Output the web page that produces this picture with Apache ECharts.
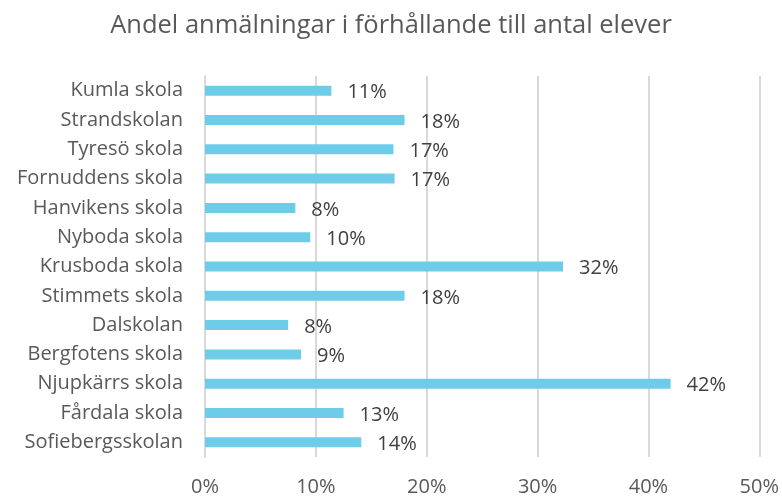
<!DOCTYPE html>
<html>
<head>
<meta charset="utf-8">
<script src="https://cdn.jsdelivr.net/npm/echarts@6/dist/echarts.min.js"></script>
<style>html,body{margin:0;padding:0;background:#fff}#c{width:782px;height:497px}</style>
</head>
<body>
<div id="c"></div>
<script>
var title = 'Andel anmälningar i förhållande till antal elever';
var schools = ['Kumla skola','Strandskolan','Tyresö skola','Fornuddens skola','Hanvikens skola','Nyboda skola','Krusboda skola','Stimmets skola','Dalskolan','Bergfotens skola','Njupkärrs skola','Fårdala skola','Sofiebergsskolan'];
var shares = [11.4, 18.0, 17.0, 17.1, 8.15, 9.5, 32.3, 18.0, 7.5, 8.67, 42.0, 12.5, 14.1];
var xTicks = [0, 10, 20, 30, 40, 50];

var chart = echarts.init(document.getElementById('c'));
var font = '"Open Sans", Lato, sans-serif';
chart.setOption({
  animation: false,
  title: {
    text: title, left: 'center', top: 8,
    textStyle: {fontFamily: font, fontSize: 25.5, fontWeight: 'normal', color: '#595959'}
  },
  grid: {left: 205, right: 21, top: 76, bottom: 39, containLabel: false},
  xAxis: {
    type: 'value', min: xTicks[0], max: xTicks[xTicks.length-1], interval: 10,
    axisLine: {show: false}, axisTick: {show: false},
    splitLine: {lineStyle: {color: '#d9d9d9', width: 2}},
    axisLabel: {formatter: '{value}%', fontFamily: font, fontSize: 20, color: '#595959', margin: 20}
  },
  yAxis: {
    type: 'category', data: schools, inverse: true,
    axisLine: {show: true, lineStyle: {color: '#d9d9d9', width: 2}},
    axisTick: {show: false},
    axisLabel: {fontFamily: font, fontSize: 20, color: '#595959', margin: 22, padding: [3, 0, 0, 0]}
  },
  series: [{
    type: 'bar', data: shares, barWidth: 10,
    itemStyle: {color: '#6dcde9'},
    label: {show: true, position: 'right', distance: 16, offset: [0, 2], fontFamily: font, fontSize: 20, color: '#404040',
      formatter: function(p){ return Math.round(p.value) + '%'; }}
  }]
});
</script>
</body>
</html>
